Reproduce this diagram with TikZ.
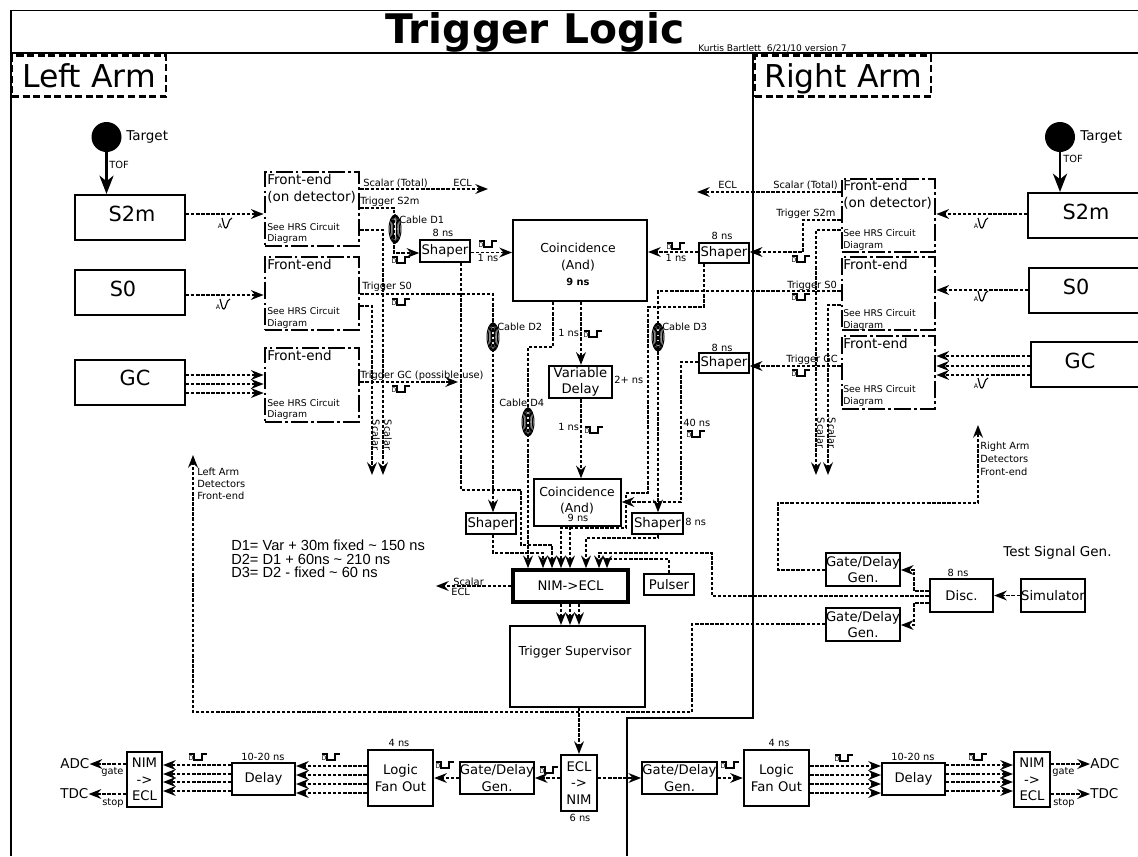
\documentclass[tikz,border=0pt]{standalone}
\usepackage{fontspec}
\setmainfont{DejaVu Sans}
\newfontfamily\noteface{Liberation Sans}
\usetikzlibrary{arrows.meta,calc}
\def\px{0.025cm}
\tikzset{
  pxbox/.style={draw=black,inner sep=0pt,align=center,font=\fontsize{9.4}{11.6}\selectfont},
  frontend/.style={draw=black,line width=2pt,dash pattern=on 12pt off 2.5pt on 1.5pt off 2.5pt},
  armbox/.style={draw=black,line width=1.5pt,dash pattern=on 5pt off 2.5pt,inner sep=0pt,text height=17pt,text depth=1pt,font=\fontsize{22.4}{24}\selectfont},
  lblsmall/.style={inner sep=0pt,text height=5.5pt,text depth=0.4pt,font=\fontsize{7}{8.4}\selectfont},
  lblsee/.style={inner sep=0pt,text height=5.2pt,text depth=0.4pt,font=\fontsize{6.6}{8}\selectfont},
  lblmid/.style={inner sep=0pt,text height=7pt,text depth=0.3pt,font=\fontsize{9.6}{11}\selectfont},
  lblcoin/.style={inner sep=0pt,text height=7pt,text depth=0.3pt,font=\fontsize{8.8}{11}\selectfont},
  lblbig/.style={inner sep=0pt,text height=11pt,text depth=0.6pt,font=\fontsize{14.8}{16}\selectfont},
  sigwire/.style={line width=1.1pt,dash pattern=on 2.4pt off 1.2pt},
  sig/.style={sigwire,-{Stealth[length=9pt,width=7pt,inset=3pt]}},
  tofarrow/.style={line width=2.1pt,-{Stealth[length=13pt,width=10pt,inset=4pt]}},
  pics/dpulse/.style={code={
    \node[inner sep=0pt,font=\fontsize{4.5}{5}\selectfont] (-d) at (2,-2) {D};
    \draw[line width=0.8pt] (0,-6) -- (5,-6) -- (5,0) -- (13,0) -- (13,-6) -- (18,-6);}},
  pics/apulse/.style={code={
    \node[inner sep=0pt,font=\fontsize{4.5}{5}\selectfont] (-a) at (2,-2) {A};
    \draw[line width=0.8pt] (4,-10) .. controls (6,-3) and (6,0) .. (8,0) .. controls (10,0) and (10,-9) .. (14,-10);}},
  pics/cablecoil/.style={code={
    \foreach \rx in {1.5,3,4.5,6}{\draw[line width=0.7pt] (0,0) ellipse [x radius=\rx,y radius=14];}}}
}
\begin{document}
\begin{tikzpicture}[x=0.025cm,y=-0.025cm]
\useasboundingbox (0,0) rectangle (1138,856);
% outer frame and dividers
\draw[line width=0.9pt] (1138,10.5) -- (11,10.5) -- (11,856);
\draw[line width=1.3pt] (11,53) -- (1138,53);
\draw[line width=1.8pt] (753,53) -- (753,718) -- (627,718) -- (627,856);
\node[inner sep=0pt,anchor=base,font=\fontsize{29}{30}\selectfont\bfseries] (title) at (535,43) {Trigger Logic};
\node[inner sep=0pt,anchor=west,font=\fontsize{6.45}{7}\selectfont] (version) at (698,48) {Kurtis Bartlett\ \ 6/21/10 version 7};
\node[armbox,minimum width=154*\px,minimum height=41*\px] (armL) at (89,76) {Left Arm};
\node[armbox,minimum width=176*\px,minimum height=41*\px] (armR) at (843,76) {Right Arm};
% targets
\foreach \nm/\x in {tgtL/106.5,tgtR/1060}{
  \node[circle,fill=black,inner sep=0pt,minimum size=30*\px] (\nm) at (\x,137) {};}
% boxes
\foreach \lw/\nm/\xa/\ya/\xb/\yb/\txt in {
  1.5pt/stwoL/75/195/185/240/{},1.5pt/szeroL/75/270/185/315/{},1.5pt/gcL/75/360/185/405/{},
  1.5pt/stwoR/1028/193/1140/238/{},1.5pt/szeroR/1029/268/1140/313/{},1.5pt/gcR/1031/342/1140/387/{},
  1.1pt/shL1/420/240/470/262/{Shaper},1.1pt/shL2/466/513/516/534/{Shaper},
  1.1pt/shR1/699/243/749/263/{Shaper},1.1pt/shR2/632/513/683/534/{Shaper},1.1pt/shR3/699/353/749/373/{Shaper},
  1.5pt/coinA/513/220/647/301/{},1pt/coinB/534/479/621/526/{},
  1.7pt/vdelay/549/366/612/398/{Variable\\Delay},
  2.6pt/nimecl/513/570/628/602/{NIM->ECL},1.2pt/pulser/644/574/694/595/{Pulser},
  1.5pt/tsup/510/626/645/707/{},
  1.3pt/gdU/826/553/900/586/{Gate/Delay\\Gen.},1.3pt/gdD/826/608/900/641/{Gate/Delay\\Gen.},
  1.7pt/disc/930/579/993/612/{Disc.},1.7pt/simu/1022/579/1084/612/{Simulator},
  1.5pt/nimL/127/752/162/807/{NIM\\->\\ECL},1.5pt/delL/232/763/295/795/{Delay},
  1.7pt/logL/368/750/433/806/{Logic\\Fan Out},1.3pt/gdL/460/762/534/794/{Gate/Delay\\Gen.},
  1.5pt/ecnim/561/755/597/811/{ECL\\->\\NIM},1.3pt/gdR/642/762/717/794/{Gate/Delay\\Gen.},
  1.7pt/logR/744/750/809/806/{Logic\\Fan Out},1.5pt/delR/882/763/945/795/{Delay},
  1.5pt/nimR/1014/752/1050/807/{NIM\\->\\ECL}}{
  \node[pxbox,line width=\lw,minimum width={(\xb-\xa)*\px},minimum height={(\yb-\ya)*\px}] (\nm) at ({(\xa+\xb)/2},{(\ya+\yb)/2}) {\txt};}
% front-end boxes
\foreach \nm/\xa/\ya/\xb/\yb in {feL1/265/172/359/246,feL2/265/257/359/330,feL3/265/348/359/422,
  feR1/842/179/935/252,feR2/842/257/935/330,feR3/842/336/935/409}{
  \node[frontend,inner sep=0pt,minimum width={(\xb-\xa)*\px},minimum height={(\yb-\ya)*\px}] (\nm) at ({(\xa+\xb)/2},{(\ya+\yb)/2}) {};}
% labels
\foreach \x/\y/\txt [count=\i] in {132/214/S2m,123/289/S0,135/378/GC,1086/212/S2m,1076/287/S0,1080/361/GC}{
  \node[lblbig] (det\i) at (\x,\y) {\txt};}
\foreach \x/\y/\txt [count=\i] in {267/180/Front-end,267/197/(on detector),267/265/Front-end,267/356/Front-end,
  843/186/Front-end,843/203/(on detector),843/265/Front-end,843/344/Front-end,
  126/136/Target,1080/136/Target,1003/552/Test Signal Gen.,60/764/ADC,60/794/TDC,1090/764/ADC,1090/794/TDC}{
  \node[lblmid,anchor=west] (mid\i) at (\x,\y) {\txt};}
\foreach \x/\y/\txt [count=\i] in {578/248/Coincidence,578/265/(And),577/492/Coincidence,577/508/(And),575/651/Trigger Supervisor}{
  \node[lblcoin] (coin\i) at (\x,\y) {\txt};}
\foreach \x/\y/\txt [count=\i] in {267/227/See HRS Circuit,267/238/Diagram,267/311/See HRS Circuit,267/323/Diagram,
  267/403/See HRS Circuit,267/414/Diagram,843/233/See HRS Circuit,843/245/Diagram,843/313/See HRS Circuit,
  843/325/Diagram,843/389/See HRS Circuit,843/401/Diagram}{
  \node[lblsee,anchor=west] (see\i) at (\x,\y) {\txt};}
\foreach \x/\y/\txt [count=\i] in {109/165/TOF,1063/159/TOF,363/183/Scalar (Total),453/183/ECL,360/201/Trigger S2m,
  399/220/Cable D1,362/286/Trigger S0,360/375/Trigger GC (possible use),497/327/Cable D2,662/327/Cable D3,499/403/Cable D4,
  773/185/Scalar (Total),718/185/ECL,776/213/Trigger S2m,787/285/Trigger S0,786/359/Trigger GC,
  558/333/1 ns,558/427/1 ns,614/380/2+ ns,683/423/40 ns,685/522/8 ns,453/582/Scalar,451/592/ECL,
  197/472/Left Arm,197/484/Detectors,197/496/Front-end,980/446/Right Arm,980/459/Detectors,980/472/Front-end,
  101/771/gate,102/802/stop,1052/771/gate,1053/802/stop}{
  \node[lblsmall,anchor=west] (sw\i) at (\x,\y) {\txt};}
\foreach \x/\y/\txt [count=\i] in {443/233/8 ns,488/258/1 ns,676/258/1 ns,722/236/8 ns,722/348/8 ns,958/573/8 ns,
  578/518/9 ns,263/757/10-20 ns,399/743/4 ns,580/818/6 ns,779/743/4 ns,913/757/10-20 ns}{
  \node[lblsmall] (sc\i) at (\x,\y) {\txt};}
\node[lblsmall,font=\fontsize{7}{8.4}\selectfont\bfseries] (coinAt) at (578,282) {9 ns};
\foreach \x/\y [count=\i] in {388/435,376/435,821/433,832/433}{
  \node[lblsmall,rotate=-90] (sca\i) at (\x,\y) {Scalar};}
\node[inner sep=0pt,anchor=west,align=left,font=\noteface\fontsize{10.4}{9.6}\selectfont] (notes) at (231,559)
  {D1= Var + 30m fixed \textasciitilde{} 150 ns\\D2= D1 + 60ns \textasciitilde{} 210 ns\\D3= D2 - fixed \textasciitilde{} 60 ns};
% free ends
\foreach \nm/\x/\y in {endLa/383/475,endLb/372/475,endLc/458/382,endLd/193/455,endLe/488/189,
  endRa/816/475,endRb/828/475,endRc/697/192,endRd/978/425,endSc/436/586}{
  \coordinate (\nm) at (\x,\y);}
% arrows
\foreach \a/\p/\b/\q/\y in {stwoL/east/feL1/west/214,szeroL/east/feL2/west/295,gcL/east/feL3/west/375,gcL/east/feL3/west/384,gcL/east/feL3/west/393,
  stwoR/west/feR1/east/214,szeroR/west/feR2/east/290,gcR/west/feR3/east/356,gcR/west/feR3/east/366,gcR/west/feR3/east/375,
  feL1/east/endLe/center/189,feL3/east/endLc/center/382,feR1/west/endRc/center/192,
  shL1/east/coinA/west/252.5,shR1/west/coinA/east/252,feR3/west/shR3/east/366,simu/west/disc/east/595.5,nimecl/west/endSc/center/586,
  ecnim/west/gdL/east/778,gdL/west/logL/east/778,ecnim/east/gdR/west/778,gdR/east/logR/west/778,
  logL/west/delL/east/766,logL/west/delL/east/775,logL/west/delL/east/784,logL/west/delL/east/793,
  delL/west/nimL/east/765,delL/west/nimL/east/774,delL/west/nimL/east/782,delL/west/nimL/east/791,
  logR/east/delR/west/766,logR/east/delR/west/775,logR/east/delR/west/784,logR/east/delR/west/793,
  delR/east/nimR/west/765,delR/east/nimR/west/774,delR/east/nimR/west/782,delR/east/nimR/west/791,
  nimL/west/mid12/east/764,nimL/west/mid13/east/794,nimR/east/mid14/west/764,nimR/east/mid15/west/794}{
  \draw[sig] (\a.\p |- 0,\y) -- (\b.\q |- 0,\y);}
\foreach \a/\b/\x in {coinA/vdelay/581,vdelay/coinB/581,coinB/nimecl/570,nimecl/tsup/561,nimecl/tsup/570,nimecl/tsup/579,tsup/ecnim/579}{
  \draw[sig] (\a.south -| \x,0) -- (\b.north -| \x,0);}
\draw[tofarrow] (tgtL) -- (stwoL.north -| tgtL);
\draw[tofarrow] (tgtR) -- (stwoR.north -| tgtR);
\draw[sig] (feL1.east |- 0,208) -| (394,253) -- (shL1.west |- 0,253);
\draw[sig] (feL1.east |- 0,230) -| (endLa);
\draw[sig] (feL2.east |- 0,306) -| (endLb);
\draw[sig] (feL2.east |- 0,294) -| (shL2.north -| 493,0);
\draw[sig] (shL1.south -| 461,0) |- (521,490) |- (552,545) -- (nimecl.north -| 552,0);
\draw[sig] (coinA.south -| 553,0) |- (528,347) -- (nimecl.north -| 528,0);
\draw[sig] (shL2.south -| 493,0) |- (543,553) -- (nimecl.north -| 543,0);
\draw[sig] (shR1.south -| 704,0) |- (648,307) |- (626,493) |- (561,528) -- (nimecl.north -| 561,0);
\draw[sig] (shR3.west |- 0,362) -| (681,502) -- (coinB.east |- 0,502);
\draw[sig] (feR2.west |- 0,291) -| (shR2.north -| 658,0);
\draw[sig] (shR2.south -| 658,0) |- (586,538) -- (nimecl.north -| 586,0);
\draw[sig] (disc.west |- 0,596) -| (712,553) -| (nimecl.north -| 599,0);
\draw[sig] (pulser.north) |- (607,559) -- (nimecl.north -| 607,0);
\draw[sig] (feR1.west |- 0,220) -| (803,252) -- (shR1.east |- 0,252);
\draw[sig] (feR1.west |- 0,230) -| (endRa);
\draw[sig] (feR2.west |- 0,305) -| (endRb);
\draw[sig] (disc.west |- 0,591) -| (914,570) -- (gdU.east |- 0,570);
\draw[sig] (disc.west |- 0,603) -| (914,625) -- (gdD.east |- 0,625);
\draw[sig] (gdU.west |- 0,570) -| (778,503) -| (endRd);
\draw[sig] (gdD.west |- 0,624) -| (692,712) -| (endLd);
% pulses and coils
\foreach \x/\y [count=\i] in {392/263,392/305,392/392,479/247,667/249,584/337,585/433,687/437,792/262,792/300,792/376,
  189/760,322/760,436/768,540/773,721/768,835/761,969/760}{
  \pic (dp\i) at (\x,\y) {dpulse};}
\foreach \x/\y [count=\i] in {218/228,216/309,974/228,974/301,974/388}{
  \pic (ap\i) at (\x,\y) {apulse};}
\foreach \x/\y [count=\i] in {395/229,493/337,658/337,528/422}{
  \pic (coil\i) at (\x,\y) {cablecoil};}
\end{tikzpicture}
\end{document}
